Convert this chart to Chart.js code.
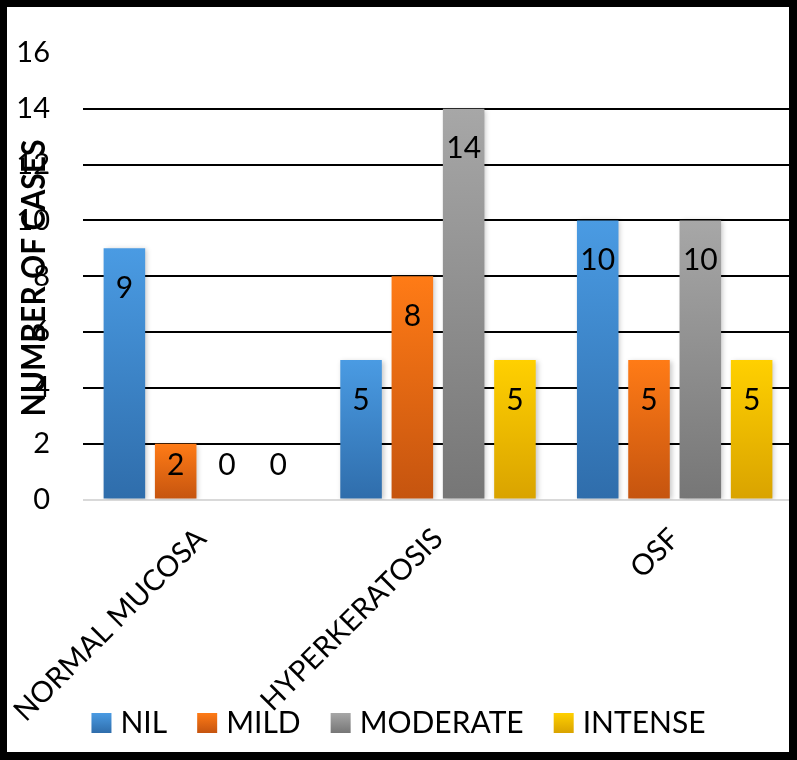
<!DOCTYPE html>
<html>
<head>
<meta charset="utf-8">
<script src="https://cdn.jsdelivr.net/npm/chart.js@4.4.1/dist/chart.umd.min.js"></script>
<style>
  html, body { margin: 0; padding: 0; background: #fff; }
  canvas { display: block; }
</style>
</head>
<body>
<canvas id="casesChart" width="797" height="760"></canvas>
<script>
const categories = ['NORMAL MUCOSA', 'HYPERKERATOSIS', 'OSF'];
const seriesNames = ['NIL', 'MILD', 'MODERATE', 'INTENSE'];
const nilValues = [9, 5, 10];
const mildValues = [2, 8, 5];
const moderateValues = [0, 14, 10];
const intenseValues = [0, 5, 5];
const yMin = 0;
const yMax = 16;
const yStep = 2;

// top / bottom colours of each bar gradient
const topColors = ['#4a9be3', '#ff7b16', '#a7a7a7', '#ffd000'];
const bottomColors = ['#2f6dab', '#c5540f', '#767676', '#d9a300'];

const FONT = 'Lato, "Open Sans", sans-serif';

function barGradient(top, bottom) {
    return function (context) {
        const chart = context.chart;
        const y = chart.scales.y;
        if (!y || !chart.chartArea) return bottom;
        const v = context.raw || 0;
        const y0 = y.getPixelForValue(v);
        const y1 = y.getPixelForValue(0);
        if (y1 - y0 < 1) return bottom;
        const g = chart.ctx.createLinearGradient(0, y0, 0, y1);
        g.addColorStop(0, top);
        g.addColorStop(1, bottom);
        return g;
    };
}

const allValues = [nilValues, mildValues, moderateValues, intenseValues];

const datasets = seriesNames.map((name, i) => ({
    label: name,
    data: allValues[i],
    backgroundColor: barGradient(topColors[i], bottomColors[i]),
    borderWidth: 0,
    barPercentage: 0.81,
    categoryPercentage: 0.867
}));

// soft shadow behind the bars, like the office chart
const barShadow = {
    id: 'barShadow',
    beforeDatasetsDraw(chart) {
        const ctx = chart.ctx;
        ctx.save();
        ctx.shadowColor = 'rgba(0,0,0,0.22)';
        ctx.shadowBlur = 5;
        ctx.shadowOffsetX = 2;
        ctx.shadowOffsetY = 1;
    },
    afterDatasetsDraw(chart) {
        chart.ctx.restore();
    }
};

// value labels inside the top of each bar
const valueLabels = {
    id: 'valueLabels',
    afterDatasetsDraw(chart) {
        const ctx = chart.ctx;
        const base = chart.scales.y.getPixelForValue(0);
        ctx.save();
        ctx.font = '30px ' + FONT;
        ctx.fillStyle = '#000';
        ctx.textAlign = 'center';
        ctx.textBaseline = 'middle';
        chart.data.datasets.forEach((ds, i) => {
            const meta = chart.getDatasetMeta(i);
            meta.data.forEach((bar, j) => {
                const y = Math.min(bar.y + 40, base - 34);
                ctx.fillText(String(ds.data[j]), bar.x, y);
            });
        });
        ctx.restore();
    }
};

// y title overlapping the tick labels, legend at the bottom, frame
const decorations = {
    id: 'decorations',
    afterDraw(chart) {
        const ctx = chart.ctx;
        const W = chart.width, H = chart.height;

        // axis title
        ctx.save();
        ctx.translate(35, 278);
        ctx.rotate(-Math.PI / 2);
        ctx.font = 'bold 32px ' + FONT;
        const tw = ctx.measureText('NUMBER OF CASES').width;
        ctx.scale(277 / tw, 1);
        ctx.fillStyle = '#000';
        ctx.textAlign = 'center';
        ctx.textBaseline = 'middle';
        ctx.fillText('NUMBER OF CASES', 0, 0);
        ctx.restore();

        // legend
        ctx.save();
        ctx.font = '30px ' + FONT;
        ctx.textBaseline = 'alphabetic';
        const box = 20, gap = 9, itemGap = 30;
        const widths = seriesNames.map(n => box + gap + ctx.measureText(n).width);
        const total = widths.reduce((a, b) => a + b, 0) + itemGap * (seriesNames.length - 1);
        let x = (W - total) / 2;
        const boxTop = 713;
        seriesNames.forEach((n, i) => {
            const g = ctx.createLinearGradient(0, boxTop, 0, boxTop + box);
            g.addColorStop(0, topColors[i]);
            g.addColorStop(1, bottomColors[i]);
            ctx.fillStyle = g;
            ctx.fillRect(x, boxTop, box, box);
            ctx.fillStyle = '#000';
            ctx.fillText(n, x + box + gap, boxTop + box);
            x += widths[i] + itemGap;
        });
        ctx.restore();

        // black frame
        ctx.save();
        ctx.fillStyle = '#000';
        ctx.fillRect(0, 0, W, 7);
        ctx.fillRect(0, 0, 7, H);
        ctx.fillRect(W - 8, 0, 8, H);
        ctx.fillRect(0, H - 8, W, 8);
        ctx.restore();
    }
};

new Chart(document.getElementById('casesChart'), {
    type: 'bar',
    data: {
        labels: categories,
        datasets: datasets
    },
    plugins: [barShadow, valueLabels, decorations],
    options: {
        responsive: false,
        animation: false,
        devicePixelRatio: 1,
        layout: {
            padding: { top: 53, left: 0, right: 4, bottom: 0 }
        },
        plugins: {
            legend: { display: false },
            tooltip: { enabled: false }
        },
        scales: {
            x: {
                grid: { display: false, drawTicks: false },
                border: { display: false },
                ticks: {
                    color: '#000',
                    font: { family: FONT, size: 29 },
                    minRotation: 45,
                    maxRotation: 45,
                    padding: 22
                },
                afterFit(scale) {
                    scale.height = 260.5;
                    scale.paddingLeft = 0;
                    scale.paddingRight = 0;
                }
            },
            y: {
                min: yMin,
                max: yMax,
                ticks: {
                    stepSize: yStep,
                    color: '#000',
                    font: { family: FONT, size: 29 },
                    padding: 33
                },
                grid: {
                    drawTicks: false,
                    lineWidth: 2,
                    color(ctx) {
                        if (ctx.tick && ctx.tick.value === 0) return '#d9d9d9';
                        if (ctx.tick && ctx.tick.value === yMax) return 'rgba(0,0,0,0)';
                        return '#000';
                    }
                },
                border: { display: false },
                afterFit(scale) { scale.width = 83; }
            }
        }
    }
});
</script>
</body>
</html>
